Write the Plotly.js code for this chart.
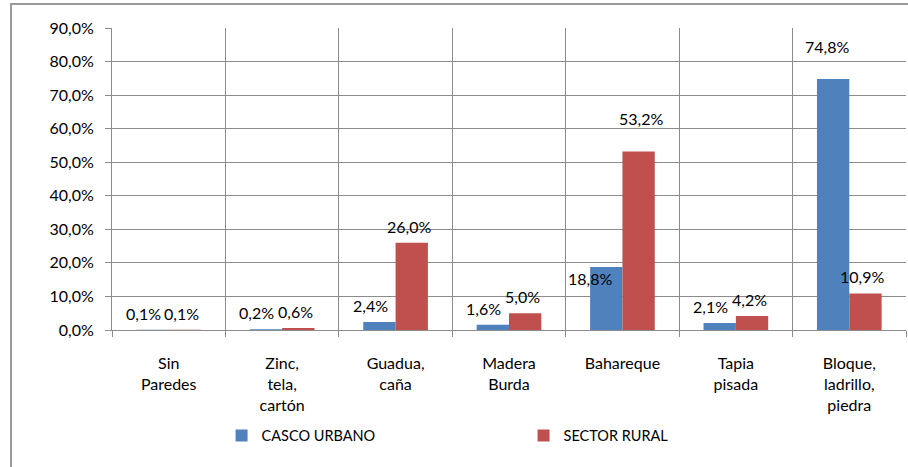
<!DOCTYPE html>
<html>
<head>
<meta charset="utf-8">
<script src="https://cdn.plot.ly/plotly-3.0.1.min.js"></script>
<style>
  html, body { margin: 0; padding: 0; background: #fff; }
  #frame { position: absolute; left: 10px; top: 3px; width: 898px; height: 464px;
           border-left: 2px solid #9a9a9a; border-top: 2px solid #9a9a9a; overflow: hidden; }
  #chart { width: 896px; height: 462px; }
</style>
</head>
<body>
<div id="frame"><div id="chart"></div></div>
<script>
const categories = ["Sin<br>Paredes", "Zinc,<br>tela,<br>cartón", "Guadua,<br>caña", "Madera<br>Burda", "Bahareque", "Tapia<br>pisada", "Bloque,<br>ladrillo,<br>piedra"];
const cascoUrbano = [0.1, 0.2, 2.4, 1.6, 18.8, 2.1, 74.8];
const sectorRural = [0.1, 0.6, 26.0, 5.0, 53.2, 4.2, 10.9];
const seriesNames = ["CASCO URBANO", "SECTOR RURAL"];
const yTicks = [0, 10, 20, 30, 40, 50, 60, 70, 80, 90];

const font = { family: "Lato, 'Open Sans', sans-serif", size: 16, color: "#000" };
const legendFont = { family: "Lato, 'Open Sans', sans-serif", size: 14.5, color: "#000" };
const colors = ["#4F81BD", "#C0504D"];
const bargap = 0.43;
const barW = (1 - bargap) / 2;
const seriesShift = [-9, -3];

// label nudges (pixels) to mimic the hand-placed labels of the original
const nudge = {
  "0-4": { dx: -7, dy: -28 },
  "1-4": { dx: 5, dy: 16 },
  "0-6": { dx: 3, dy: 16 }
};

function fmt(v) { return v.toFixed(1).replace(".", ",") + "%"; }

const data = [cascoUrbano, sectorRural].map((vals, s) => ({
  type: "bar", name: seriesNames[s], x: categories, y: vals,
  marker: { color: colors[s] }, hoverinfo: "skip"
}));

const annotations = [];
[cascoUrbano, sectorRural].forEach((vals, s) => {
  vals.forEach((v, i) => {
    const n = nudge[s + "-" + i] || { dx: 0, dy: 0 };
    annotations.push({
      x: i + (s === 0 ? -barW / 2 : barW / 2), y: v, xref: "x", yref: "y",
      text: fmt(v), showarrow: false, yanchor: "bottom", xanchor: "center",
      xshift: seriesShift[s] + n.dx, yshift: 5 + n.dy, font: font
    });
  });
});

const layout = {
  width: 896, height: 462,
  margin: { l: 100, r: 2, t: 23, b: 137 },
  paper_bgcolor: "#fff", plot_bgcolor: "#fff",
  font: font,
  bargap: bargap, bargroupgap: 0,
  showlegend: true,
  annotations: annotations,
  legend: { orientation: "h", x: 0.138, xanchor: "left", y: -0.297, yanchor: "top",
            entrywidth: 257, entrywidthmode: "pixels", font: legendFont, traceorder: "normal" },
  xaxis: {
    type: "category", tickson: "boundaries", showgrid: true, gridcolor: "#8c8c8c", gridwidth: 1,
    ticks: "outside", ticklen: 6, tickcolor: "#8c8c8c", showline: true, linecolor: "#8c8c8c",
    tickfont: font, ticklabelstandoff: 19, fixedrange: true
  },
  yaxis: {
    range: [0, 90], tickvals: yTicks, ticktext: yTicks.map(fmt),
    showgrid: true, gridcolor: "#8c8c8c", gridwidth: 1, zeroline: false,
    ticks: "outside", ticklen: 6, tickcolor: "#8c8c8c", showline: true, linecolor: "#8c8c8c",
    tickfont: font, ticklabelstandoff: 8, fixedrange: true
  }
};

Plotly.newPlot("chart", data, layout, { displayModeBar: false, staticPlot: true });
</script>
</body>
</html>
